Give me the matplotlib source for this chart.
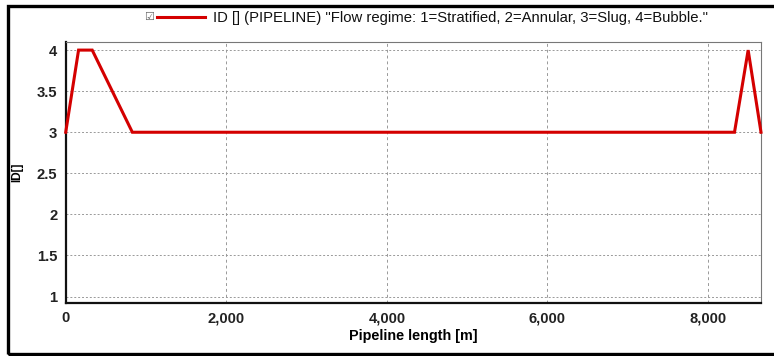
import matplotlib
matplotlib.use("Agg")
import matplotlib.pyplot as plt
from matplotlib.lines import Line2D
from matplotlib.patches import Rectangle

plt.rcParams['font.family'] = ['Liberation Sans', 'DejaVu Sans']

# flow regime along the pipeline
length_m = [0, 160, 330, 830, 8330, 8500, 8660]
regime_id = [3, 4, 4, 3, 3, 4, 3]
xticks = [0, 2000, 4000, 6000, 8000]
xticklabels = ["0", "2,000", "4,000", "6,000", "8,000"]
yticks = [1, 1.5, 2, 2.5, 3, 3.5, 4]
yticklabels = ["1", "1.5", "2", "2.5", "3", "3.5", "4"]
legend_text = 'ID [] (PIPELINE) "Flow regime: 1=Stratified, 2=Annular, 3=Slug, 4=Bubble."'

fig = plt.figure(figsize=(7.74, 3.56), dpi=100)
ax = fig.add_axes([0.0849, 0.1497, 0.8983, 0.7315])

ax.plot(length_m, regime_id, color='#d40000', lw=2.2, solid_joinstyle='miter',
        clip_on=False, zorder=3)

ax.set_xlim(0, 8660)
ax.set_ylim(0.925, 4.095)
ax.set_xticks(xticks)
ax.set_xticklabels(xticklabels, fontweight='bold', fontsize=10.6)
ax.set_yticks(yticks)
ax.set_yticklabels(yticklabels, fontweight='bold', fontsize=10.6)
ax.tick_params(length=0, pad=6, colors='#222222')

ax.grid(axis='y', color='#999999', ls=(0, (2, 2)), lw=0.7)
ax.grid(axis='x', color='#999999', ls=(0, (3, 3)), lw=0.7)

for side in ['left', 'bottom']:
    ax.spines[side].set_linewidth(1.6)
    ax.spines[side].set_color('#111111')
for side in ['top', 'right']:
    ax.spines[side].set_linewidth(0.8)
    ax.spines[side].set_color('#777777')

ax.set_xlabel('Pipeline length [m]', fontweight='bold', fontsize=10.4, labelpad=3)
ax.set_ylabel('ID[]', fontweight='bold', fontsize=8.5, labelpad=10)

# legend row above the axes
fig.text(0.192, 0.952, '\u2611', fontsize=8, color='#666666',
         family=['DejaVu Sans'], ha='center', va='center')
fig.add_artist(Line2D([0.203, 0.265], [0.952, 0.952], color='#d40000', lw=2.2,
                      transform=fig.transFigure))
fig.text(0.275, 0.950, legend_text, fontsize=10.75, color='#111111',
         ha='left', va='center')

# outer frame
fig.add_artist(Rectangle((0.010, 0.006), 1.2, 0.978, transform=fig.transFigure,
                         fill=False, lw=2.4, ec='black'))

fig.savefig('out.png', dpi=100)
